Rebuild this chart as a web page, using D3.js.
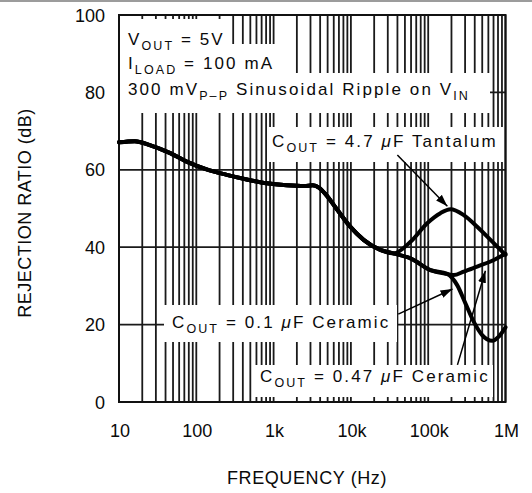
<!DOCTYPE html>
<html>
<head>
<meta charset="utf-8">
<script src="https://cdn.jsdelivr.net/npm/d3@7"></script>
<style>
  body { margin: 0; background: #fff; }
  svg { display: block; }
  text { font-family: "Liberation Sans", Arial, sans-serif; fill: #0a0a0a; }
</style>
</head>
<body>
<svg width="532" height="493"></svg>
<script>
// curve (Hz, dB)
const trunkHz = [10, 16, 25, 46, 75, 136, 248, 450, 817, 1480, 2500, 3200, 3900, 4600, 6700, 9800, 14600, 24000, 35600];
const trunkDb = [67.1, 67.4, 66.4, 64.3, 62.1, 60.1, 58.7, 57.5, 56.5, 56.0, 55.8, 56.0, 55.3, 53.9, 49.6, 45.3, 41.9, 39.3, 38.4];
const tantalumHz = [59000, 97000, 144000, 194000, 288000, 430000, 640000, 1000000];
const tantalumDb = [41.4, 46.2, 48.8, 49.8, 48.3, 45.3, 41.9, 38.0];
const ceramicHz = [59000, 107000, 176000];
const ceramicDb = [37.1, 34.1, 33.1];
const c047Hz = [214000, 288000, 430000, 640000, 1000000];
const c047Db = [32.8, 33.7, 35.0, 36.3, 38.3];
const c01Hz = [237000, 303000, 389000, 499000, 673000, 818000, 1000000];
const c01Db = [30.2, 25.5, 20.7, 17.3, 15.8, 16.9, 19.3];

const xTickHz = [10, 100, 1e3, 1e4, 1e5, 1e6];
const xTickLabels = ["10", "100", "1k", "10k", "100k", "1M"];
const yTicks = [0, 20, 40, 60, 80, 100];

// arrows: [fromHz, fromDb, toHz, toDb]
const arrows = [
  [39900, 63.8, 177000, 50.6],
  [41000, 22.7, 206000, 29.2],
  [239000, 9.6, 550000, 33.9]
];

const svg = d3.select("svg");
const x = d3.scaleLog().domain([10, 1e6]).range([119, 505.5]);
const y = d3.scaleLinear().domain([0, 100]).range([402, 15]);

// grey strip at very top
svg.append("rect").attr("x", 0).attr("y", 0).attr("width", 532).attr("height", 2).attr("fill", "#9c9c9c");

// grid
svg.append("g").selectAll("line").data(x.ticks()).join("line")
  .attr("x1", d => x(d)).attr("x2", d => x(d))
  .attr("y1", y(0)).attr("y2", y(100))
  .attr("stroke", "#1a1a1a").attr("stroke-width", 1.8);
svg.append("g").selectAll("line").data(yTicks).join("line")
  .attr("x1", x(10)).attr("x2", x(1e6))
  .attr("y1", d => y(d)).attr("y2", d => y(d))
  .attr("stroke", "#1a1a1a").attr("stroke-width", 1.8);

// white backgrounds behind the notes
const boxes = [
  [120, 19, 111, 31],
  [120, 44, 173, 29],
  [120, 73, 370, 40],
  [267, 127, 237, 35],
  [164, 305, 233, 37],
  [253, 365, 240, 32]
];
svg.append("g").selectAll("rect").data(boxes).join("rect")
  .attr("x", d => d[0]).attr("y", d => d[1])
  .attr("width", d => d[2]).attr("height", d => d[3])
  .attr("fill", "#fff");

// frame
svg.append("rect")
  .attr("x", x(10)).attr("y", y(100))
  .attr("width", x(1e6) - x(10)).attr("height", y(0) - y(100))
  .attr("fill", "none").attr("stroke", "#111").attr("stroke-width", 2);

// curves
const pts = (hz, db) => hz.map((h, i) => ({ hz: h, db: db[i] }));
const line = d3.line().x(d => x(d.hz)).y(d => y(d.db)).curve(d3.curveMonotoneX);
const trunk = pts(trunkHz, trunkDb);
const ceramic = trunk.concat(pts(ceramicHz, ceramicDb));
const curves = [
  trunk.concat(pts(tantalumHz, tantalumDb)),
  ceramic.concat(pts(c047Hz, c047Db)),
  ceramic.concat(pts(c01Hz, c01Db))
];
svg.append("g").selectAll("path").data(curves).join("path")
  .attr("d", line)
  .attr("fill", "none").attr("stroke", "#000")
  .attr("stroke-width", 4).attr("stroke-linejoin", "round").attr("stroke-linecap", "round");

// arrows
svg.append("defs").append("marker")
  .attr("id", "head").attr("markerUnits", "userSpaceOnUse")
  .attr("markerWidth", 13).attr("markerHeight", 8)
  .attr("refX", 12).attr("refY", 4).attr("orient", "auto")
  .append("path").attr("d", "M0,0 L12,4 L0,8 Z").attr("fill", "#000");
svg.append("g").selectAll("line").data(arrows).join("line")
  .attr("x1", d => x(d[0])).attr("y1", d => y(d[1]))
  .attr("x2", d => x(d[2])).attr("y2", d => y(d[3]))
  .attr("stroke", "#000").attr("stroke-width", 1.5)
  .attr("marker-end", "url(#head)");

// notes with subscripts
function note(px, py, parts) {
  const t = svg.append("text").attr("x", px).attr("y", py)
    .attr("font-size", 17).attr("letter-spacing", 2.1);
  let down = false;
  parts.forEach(([s, kind]) => {
    const sp = t.append("tspan").text(s);
    if (kind === "sub") {
      sp.attr("font-size", 12.5).attr("dy", down ? 0 : 5);
      down = true;
    } else {
      if (down) sp.attr("dy", -5);
      down = false;
      if (kind === "mu") sp.attr("font-style", "italic");
    }
  });
}
note(128, 45, [["V"], ["OUT", "sub"], [" = 5V"]]);
note(128, 69, [["I"], ["LOAD", "sub"], [" = 100 mA"]]);
note(128, 95, [["300 mV"], ["P\u2013P", "sub"], [" Sinusoidal Ripple on V"], ["IN", "sub"]]);
note(272, 147, [["C"], ["OUT", "sub"], [" = 4.7 "], ["\u03bc", "mu"], ["F Tantalum"]]);
note(172, 328, [["C"], ["OUT", "sub"], [" = 0.1 "], ["\u03bc", "mu"], ["F Ceramic"]]);
note(260, 382, [["C"], ["OUT", "sub"], [" = 0.47 "], ["\u03bc", "mu"], ["F Ceramic"]]);

// tick labels
svg.append("g").selectAll("text").data(xTickHz).join("text")
  .attr("x", d => x(d) + 1).attr("y", 437)
  .attr("text-anchor", "middle").attr("font-size", 18)
  .text((d, i) => xTickLabels[i]);
svg.append("g").selectAll("text").data(yTicks).join("text")
  .attr("x", 105).attr("y", d => y(d) + 6.5)
  .attr("text-anchor", "end").attr("font-size", 18)
  .text(d => d);

// axis titles
svg.append("text")
  .attr("x", 307).attr("y", 484)
  .attr("text-anchor", "middle").attr("font-size", 18).attr("letter-spacing", 0.6)
  .text("FREQUENCY (Hz)");
svg.append("text")
  .attr("transform", "translate(31,213) rotate(-90)")
  .attr("text-anchor", "middle").attr("font-size", 18).attr("letter-spacing", 0.5)
  .text("REJECTION RATIO (dB)");
</script>
</body>
</html>
